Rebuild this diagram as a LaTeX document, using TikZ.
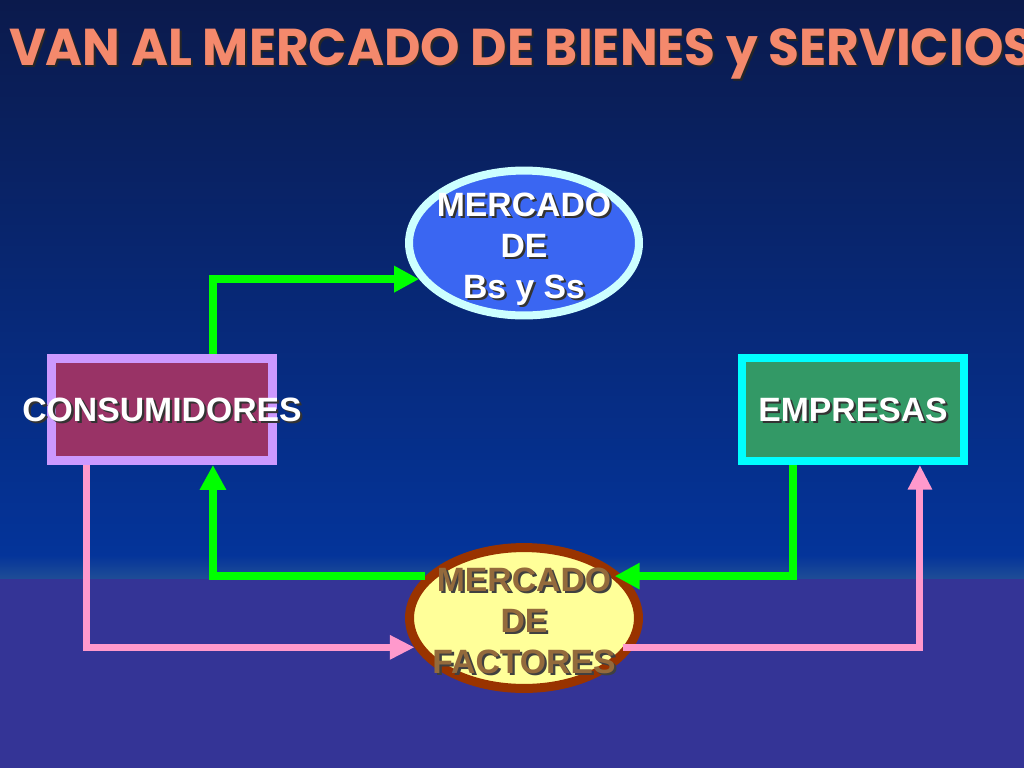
\documentclass[tikz,border=0pt]{standalone}
\usepackage{fontspec}
\setmainfont{Liberation Sans}
\newfontfamily\titlefont{Poppins}
\usetikzlibrary{shapes.geometric,arrows.meta}
\definecolor{bgtop}{HTML}{0B1A4C}
\definecolor{bgmid}{HTML}{04349A}
\definecolor{bgteal}{HTML}{1E4C96}
\definecolor{bgbot}{HTML}{343496}
\definecolor{titlecol}{HTML}{F4896C}
\definecolor{ellcyan}{HTML}{CCFFFF}
\definecolor{ellblue}{HTML}{3A66F2}
\definecolor{ellbrown}{HTML}{993300}
\definecolor{ellyellow}{HTML}{FFFF99}
\definecolor{factext}{HTML}{936A3C}
\definecolor{consfill}{HTML}{993366}
\definecolor{consedge}{HTML}{CC99FF}
\definecolor{empfill}{HTML}{339966}
\definecolor{empedge}{HTML}{00FFFF}
\definecolor{garr}{HTML}{00FF00}
\definecolor{parr}{HTML}{FF99CC}
\newcommand\shd[2]{\makebox[0pt][l]{\hspace{1.3pt}\raisebox{-1.3pt}{\color{#1}#2}}#2}
\newcommand\ttl{VAN AL MERCADO DE BIENES y SERVICIOS}
\begin{document}
\begin{tikzpicture}[x=0.02cm,y=-0.02cm,
  ell/.style={ellipse, inner sep=0pt},
  box/.style={rectangle, inner sep=0pt, minimum width=125.8pt, minimum height=58pt},
  lbl/.style={align=center, inner sep=0pt, font=\bfseries\fontsize{19.2pt}{23.3pt}\selectfont},
  garrow/.style={draw=garr, line width=4.55pt, line join=miter, -{Triangle[length=14.2pt, width=14.2pt]}},
  parrow/.style={draw=parr, line width=4pt, line join=miter, -{Triangle[length=14pt, width=13pt]}}]
\useasboundingbox (0,0) rectangle (1024,768);
\clip (0,0) rectangle (1024,768);
% background
\fill[bgbot] (0,577) rectangle (1024,768);
\shade[top color=bgtop, bottom color=bgmid] (0,0) rectangle (1024,556);
\shade[top color=bgmid, bottom color=bgteal] (0,555) rectangle (1024,578);
% title
\node[anchor=base west, inner sep=0pt, text=black!85] (titlesh) at (11,67.5) {\resizebox{583.3pt}{21pt}{\titlefont\bfseries\ttl}};
\node[anchor=base west, inner sep=0pt, text=titlecol] (title) at (9,65.5) {\resizebox{583.3pt}{21pt}{\titlefont\bfseries\ttl}};
% shapes
\node[ell, draw=ellcyan, fill=ellblue, line width=4.55pt, minimum width=130.9pt, minimum height=82.5pt] (mbs) at (524,243) {};
\node[ell, draw=ellbrown, fill=ellyellow, line width=5.12pt, minimum width=130.3pt, minimum height=80.2pt] (mf) at (524,618) {};
\node[box, draw=consedge, fill=consfill, line width=5.12pt] (cons) at (162,409.5) {};
\node[box, draw=empedge, fill=empfill, line width=4.55pt, minimum width=126.3pt, minimum height=58.6pt] (emp) at (853,409.5) {};
% connectors
\draw[garrow] ([xshift=29pt]cons.north) |- (mbs.199);
\draw[garrow] (mf.157) -| ([xshift=29pt]cons.south);
\draw[garrow, shorten >=-4.5pt] ([xshift=-34.1pt]emp.south) |- (mf.23);
\draw[parrow] ([xshift=-43.2pt]cons.south) |- (mf.195);
\draw[parrow, shorten <=-5.7pt] (mf.345) -| ([xshift=38.1pt]emp.south);
% texts
\node[lbl, text=white] (mbstext) at (524,250) {\shd{black!80}{MERCADO}\\\shd{black!80}{DE}\\\shd{black!80}{Bs y Ss}};
\node[lbl, text=factext] (mftext) at (524,622) {\shd{black!75}{MERCADO}\\\shd{black!75}{DE}\\\shd{black!75}{FACTORES}};
\node[lbl, text=white] (constext) at (162,411) {\shd{black!80}{CONSUMIDORES}};
\node[lbl, text=white] (emptext) at (853,411) {\shd{black!80}{EMPRESAS}};
\end{tikzpicture}
\end{document}
